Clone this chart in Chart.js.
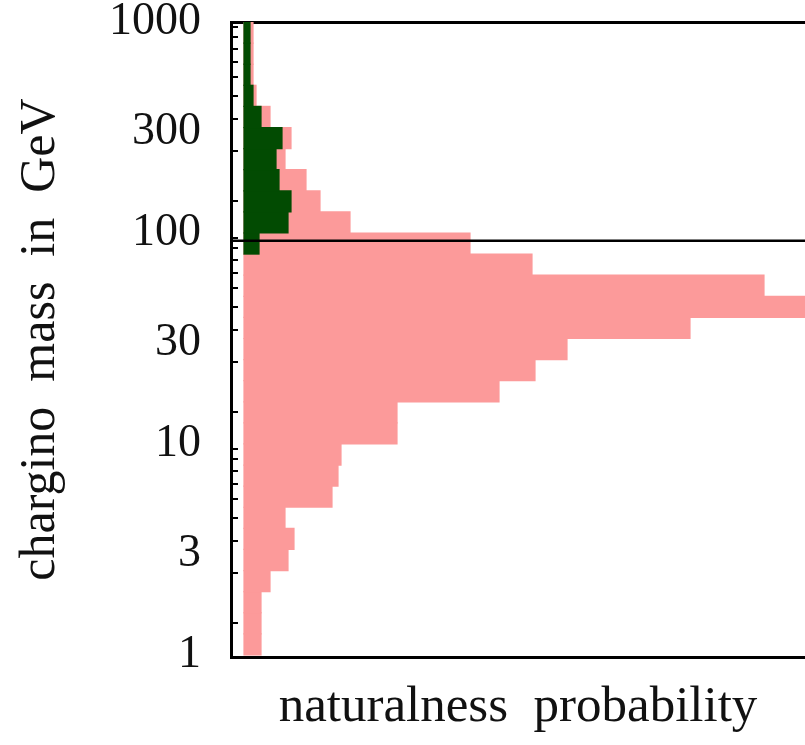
<!DOCTYPE html>
<html>
<head>
<meta charset="utf-8">
<title>chargino mass</title>
<script src="https://cdn.jsdelivr.net/npm/chart.js@4.4.1/dist/chart.umd.min.js"></script>
<style>
  html, body { margin: 0; padding: 0; background: #fff; }
</style>
</head>
<body>
<canvas id="massChart" width="805" height="745"></canvas>
<script>
// histogram bins: lower edge in log10(m / GeV), each bin 0.1 wide
const binLog10 = [0.0, 0.1, 0.2, 0.3, 0.4, 0.5, 0.6, 0.7, 0.8, 0.9,
                  1.0, 1.1, 1.2, 1.3, 1.4, 1.5, 1.6, 1.7, 1.8, 1.9,
                  2.0, 2.1, 2.2, 2.3, 2.4, 2.5, 2.6, 2.7, 2.8, 2.9];
const pinkProb = [17, 17, 17, 26, 44, 50, 41, 88, 94, 97,
                  153, 153, 255, 291, 323, 446, 600, 520, 288, 226,
                  106, 76, 62, 41, 47, 26, 12, 9, 9, 9];

const greenBinLog10 = [1.9, 2.0, 2.1, 2.2, 2.3, 2.4, 2.5, 2.6, 2.7, 2.8, 2.9];
const greenProb = [15, 44, 47, 35, 32, 38, 17, 9, 6, 6, 6];

const massBound = 92; // horizontal line, GeV

const tickLabels = [1, 3, 10, 30, 100, 300, 1000];
const tickMarks = [1, 2, 3, 4, 5, 6, 7, 8, 9,
                   10, 20, 30, 40, 50, 60, 70, 80, 90,
                   100, 200, 300, 400, 500, 600, 700, 800, 900, 1000];

const xMin = -13, xMax = 561;
const yMin = 0.978, yMax = 1000;

function binCenter(lo) {
    return Math.pow(10, lo + 0.05);
}

const serif = 'Liberation Serif, Times New Roman, serif';

const ctx = document.getElementById('massChart').getContext('2d');
const massChart = new Chart(ctx, {
    type: 'bar',
    data: {
        datasets: [
            {
                type: 'line',
                data: [{ x: xMin, y: massBound }, { x: xMax, y: massBound }],
                borderColor: '#000',
                borderWidth: 2.5,
                pointRadius: 0,
                fill: false
            },
            {
                label: 'green',
                stack: 'hist',
                data: greenBinLog10.map((lo, i) => ({ y: binCenter(lo), x: greenProb[i] })),
                backgroundColor: '#024b02',
                borderWidth: 0,
                inflateAmount: 0.6,
                barThickness: 'flex',
                barPercentage: 1,
                categoryPercentage: 1
            },
            {
                label: 'pink',
                stack: 'hist',
                data: binLog10.map((lo, i) => ({ y: binCenter(lo), x: pinkProb[i] })),
                backgroundColor: '#fc9a9a',
                borderWidth: 0,
                inflateAmount: 0.6,
                barThickness: 'flex',
                barPercentage: 1,
                categoryPercentage: 1
            }
        ]
    },
    options: {
        indexAxis: 'y',
        responsive: false,
        animation: false,
        layout: { padding: { top: 22, right: 0, bottom: 0, left: 0 } },
        plugins: {
            legend: { display: false },
            tooltip: { enabled: false }
        },
        scales: {
            x: {
                type: 'linear',
                position: 'bottom',
                stacked: false,
                min: xMin,
                max: xMax,
                ticks: { display: false },
                grid: { display: false },
                border: { display: true, color: '#000', width: 3 },
                title: {
                    display: true,
                    text: 'naturalness  probability',
                    color: '#111',
                    font: { family: serif, size: 51 },
                    padding: { top: 0, bottom: 7 }
                },
                afterFit: s => { s.height = 88; }
            },
            xTop: {
                type: 'linear',
                position: 'top',
                min: xMin,
                max: xMax,
                ticks: { display: false },
                grid: { display: false },
                border: { display: true, color: '#000', width: 3 },
                afterFit: s => { s.height = 0; }
            },
            y: {
                type: 'logarithmic',
                min: yMin,
                max: yMax,
                afterBuildTicks: s => {
                    s.ticks = tickMarks.map(v => ({ value: v }));
                },
                ticks: {
                    autoSkip: false,
                    maxRotation: 0,
                    padding: 37,
                    color: '#111',
                    font: { family: serif, size: 46 },
                    callback: v => tickLabels.includes(v) ? String(v) : ''
                },
                grid: {
                    drawOnChartArea: false,
                    drawTicks: true,
                    tickLength: -7,
                    color: '#000',
                    lineWidth: 2
                },
                border: { display: true, color: '#000', width: 3 },
                title: {
                    display: true,
                    text: 'chargino  mass  in  GeV',
                    color: '#111',
                    font: { family: serif, size: 50 },
                    padding: { top: 11, bottom: 0 }
                },
                afterFit: s => {
                    s.width = 231;
                    s.paddingTop = 0;
                    s.paddingBottom = 0;
                }
            }
        }
    }
});
</script>
</body>
</html>
